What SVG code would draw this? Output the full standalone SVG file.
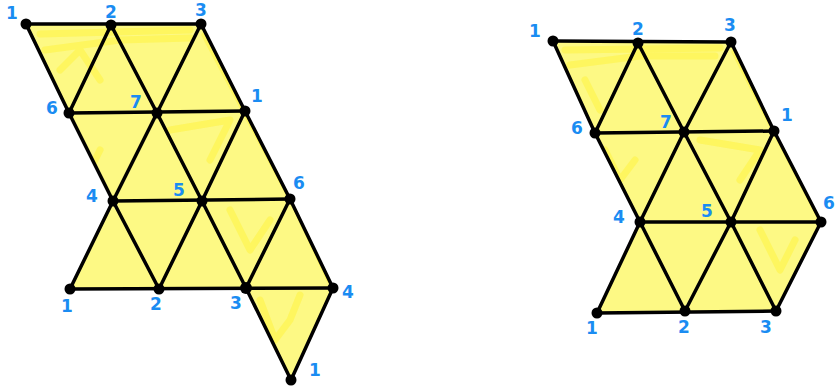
<svg xmlns="http://www.w3.org/2000/svg" width="836" height="390" viewBox="0 0 836 390">
<defs>
<style>
.fill{fill:#fdf984;stroke:none}
.streak{fill:none;stroke:#fff33a;stroke-width:7;stroke-linecap:round;stroke-linejoin:round;opacity:0.5}
.edge{stroke:#000;stroke-width:3.5;stroke-linecap:round;fill:none}
.dot{fill:#000}
.lbl{font-family:"DejaVu Sans","Liberation Sans",sans-serif;font-weight:bold;font-size:17px;fill:#1a8cf2;text-anchor:middle}
</style>
<clipPath id="clipL"><polygon points="26,24 201,24 245,111 290,199 333,288 291,380 246,288 70,289 113,201 69,113"/></clipPath>
<clipPath id="clipR"><polygon points="553,41 731,42 774,131 821,222 776,311 597,313 640,222 595,133"/></clipPath>
</defs>
<g id="shading">
<polygon class="fill" points="26,24 201,24 245,111 290,199 333,288 291,380 246,288 70,289 113,201 69,113"/>
<polygon class="fill" points="553,41 731,42 774,131 821,222 776,311 597,313 640,222 595,133"/>
<g clip-path="url(#clipL)">
<path class="streak" d="M40,34 L190,30 M45,50 L120,40 L190,38 M60,70 L80,50 L100,80 M205,35 L250,120 L295,205 L330,280 M75,130 L90,170 L100,150 M170,130 L230,120 L210,160 M230,210 L250,250 L270,220 M260,300 L275,340 L290,320 L300,295"/>
</g>
<g clip-path="url(#clipR)">
<path class="streak" d="M565,50 L720,48 M570,65 L640,56 L715,56 M585,80 L600,110 M735,52 L780,140 L825,226 M605,150 L620,180 L635,160 M700,140 L760,150 L740,180 M760,230 L780,270 L795,240"/>
</g>
</g>
<g id="connectors">
<line class="edge" x1="26" y1="24" x2="201" y2="24"/>
<line class="edge" x1="69" y1="113" x2="245" y2="111"/>
<line class="edge" x1="113" y1="201" x2="290" y2="199"/>
<line class="edge" x1="70" y1="289" x2="333" y2="288"/>
<line class="edge" x1="26" y1="24" x2="69" y2="113"/>
<line class="edge" x1="111" y1="25" x2="69" y2="113"/>
<line class="edge" x1="111" y1="25" x2="157" y2="113"/>
<line class="edge" x1="201" y1="24" x2="157" y2="113"/>
<line class="edge" x1="201" y1="24" x2="245" y2="111"/>
<line class="edge" x1="69" y1="113" x2="113" y2="201"/>
<line class="edge" x1="157" y1="113" x2="113" y2="201"/>
<line class="edge" x1="157" y1="113" x2="202" y2="201"/>
<line class="edge" x1="245" y1="111" x2="202" y2="201"/>
<line class="edge" x1="245" y1="111" x2="290" y2="199"/>
<line class="edge" x1="113" y1="201" x2="70" y2="289"/>
<line class="edge" x1="113" y1="201" x2="159" y2="289"/>
<line class="edge" x1="202" y1="201" x2="159" y2="289"/>
<line class="edge" x1="202" y1="201" x2="246" y2="288"/>
<line class="edge" x1="290" y1="199" x2="246" y2="288"/>
<line class="edge" x1="290" y1="199" x2="333" y2="288"/>
<line class="edge" x1="246" y1="288" x2="291" y2="380"/>
<line class="edge" x1="333" y1="288" x2="291" y2="380"/>
<line class="edge" x1="553" y1="41" x2="731" y2="42"/>
<line class="edge" x1="595" y1="133" x2="774" y2="131"/>
<line class="edge" x1="640" y1="222" x2="821" y2="222"/>
<line class="edge" x1="597" y1="313" x2="776" y2="311"/>
<line class="edge" x1="553" y1="41" x2="595" y2="133"/>
<line class="edge" x1="638" y1="43" x2="595" y2="133"/>
<line class="edge" x1="638" y1="43" x2="684" y2="132"/>
<line class="edge" x1="731" y1="42" x2="684" y2="132"/>
<line class="edge" x1="731" y1="42" x2="774" y2="131"/>
<line class="edge" x1="595" y1="133" x2="640" y2="222"/>
<line class="edge" x1="684" y1="132" x2="640" y2="222"/>
<line class="edge" x1="684" y1="132" x2="731" y2="222"/>
<line class="edge" x1="774" y1="131" x2="731" y2="222"/>
<line class="edge" x1="774" y1="131" x2="821" y2="222"/>
<line class="edge" x1="640" y1="222" x2="597" y2="313"/>
<line class="edge" x1="640" y1="222" x2="685" y2="311"/>
<line class="edge" x1="731" y1="222" x2="685" y2="311"/>
<line class="edge" x1="731" y1="222" x2="776" y2="311"/>
<line class="edge" x1="821" y1="222" x2="776" y2="311"/>
</g>
<g id="L-top1"><circle class="dot" cx="26" cy="24" r="5.5"/><text class="lbl" x="12" y="19">1</text></g>
<g id="L-top2"><circle class="dot" cx="111" cy="25" r="5.5"/><text class="lbl" x="111" y="18">2</text></g>
<g id="L-top3"><circle class="dot" cx="201" cy="24" r="5.5"/><text class="lbl" x="201" y="16">3</text></g>
<g id="L-r1-6"><circle class="dot" cx="69" cy="113" r="5.5"/><text class="lbl" x="52" y="114">6</text></g>
<g id="L-r1-7"><circle class="dot" cx="157" cy="113" r="5.5"/><text class="lbl" x="136" y="108">7</text></g>
<g id="L-r1-1"><circle class="dot" cx="245" cy="111" r="5.5"/><text class="lbl" x="257" y="102">1</text></g>
<g id="L-r2-4"><circle class="dot" cx="113" cy="201" r="5.5"/><text class="lbl" x="92" y="202">4</text></g>
<g id="L-r2-5"><circle class="dot" cx="202" cy="201" r="5.5"/><text class="lbl" x="179" y="196">5</text></g>
<g id="L-r2-6"><circle class="dot" cx="290" cy="199" r="5.5"/><text class="lbl" x="299" y="189">6</text></g>
<g id="L-r3-1"><circle class="dot" cx="70" cy="289" r="5.5"/><text class="lbl" x="67" y="312">1</text></g>
<g id="L-r3-2"><circle class="dot" cx="159" cy="289" r="5.5"/><text class="lbl" x="156" y="310">2</text></g>
<g id="L-r3-3"><circle class="dot" cx="246" cy="288" r="6"/><text class="lbl" x="236" y="309">3</text></g>
<g id="L-r3-4"><circle class="dot" cx="333" cy="288" r="5.5"/><text class="lbl" x="348" y="298">4</text></g>
<g id="L-bot1"><circle class="dot" cx="291" cy="380" r="5.5"/><text class="lbl" x="315" y="376">1</text></g>
<g id="R-top1"><circle class="dot" cx="553" cy="41" r="5.5"/><text class="lbl" x="535" y="37">1</text></g>
<g id="R-top2"><circle class="dot" cx="638" cy="43" r="5.5"/><text class="lbl" x="638" y="35">2</text></g>
<g id="R-top3"><circle class="dot" cx="731" cy="42" r="5.5"/><text class="lbl" x="730" y="31">3</text></g>
<g id="R-r1-6"><circle class="dot" cx="595" cy="133" r="5.5"/><text class="lbl" x="577" y="134">6</text></g>
<g id="R-r1-7"><circle class="dot" cx="684" cy="132" r="5.5"/><text class="lbl" x="666" y="128">7</text></g>
<g id="R-r1-1"><circle class="dot" cx="774" cy="131" r="5.5"/><text class="lbl" x="787" y="121">1</text></g>
<g id="R-r2-4"><circle class="dot" cx="640" cy="222" r="5.5"/><text class="lbl" x="619" y="223">4</text></g>
<g id="R-r2-5"><circle class="dot" cx="731" cy="222" r="5.5"/><text class="lbl" x="707" y="217">5</text></g>
<g id="R-r2-6"><circle class="dot" cx="821" cy="222" r="5.5"/><text class="lbl" x="829" y="209">6</text></g>
<g id="R-r3-1"><circle class="dot" cx="597" cy="313" r="5.5"/><text class="lbl" x="592" y="334">1</text></g>
<g id="R-r3-2"><circle class="dot" cx="685" cy="311" r="5.5"/><text class="lbl" x="684" y="333">2</text></g>
<g id="R-r3-3"><circle class="dot" cx="776" cy="311" r="5.5"/><text class="lbl" x="766" y="333">3</text></g>
</svg>
